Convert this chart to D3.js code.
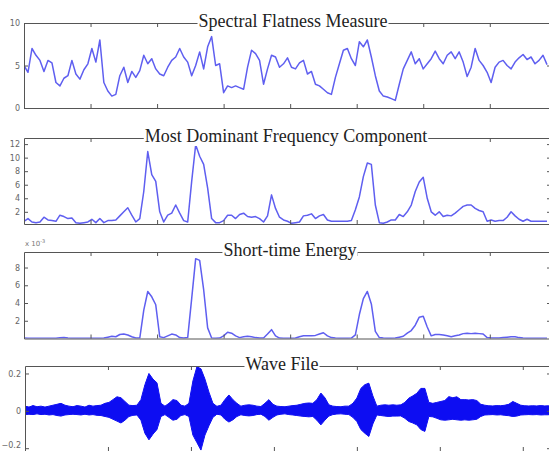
<!DOCTYPE html>
<html>
<head>
<meta charset="utf-8">
<script src="https://d3js.org/d3.v7.min.js"></script>
<style>
  body { margin: 0; background: #fff; }
  .tick text { font-family: "DejaVu Sans", sans-serif; font-size: 8px; fill: #666; }
  .title { font-family: "Liberation Serif", serif; font-size: 18px; fill: #222; }
</style>
</head>
<body>
<svg id="chart" width="549" height="451"></svg>
<script>
// frame values, one every 3 frames (0..393)
const flatness = [5.0,4.2,7.0,6.2,5.6,4.3,5.6,5.3,3.0,2.6,3.5,3.8,5.6,4.0,3.4,4.5,5.2,7.0,5.4,8.0,
  3.0,2.0,1.4,1.6,3.8,4.8,3.0,4.3,3.6,4.4,6.2,5.2,5.8,4.6,4.0,3.8,4.8,5.6,6.0,7.0,
  6.0,5.4,3.8,5.0,6.6,4.6,7.2,8.4,5.0,5.2,1.8,2.6,2.4,2.6,2.4,2.2,4.8,6.8,6.4,5.6,
  2.8,4.6,6.2,6.0,4.8,5.2,5.9,4.8,4.6,5.3,5.6,4.0,4.3,2.8,2.6,2.2,1.8,1.6,3.6,5.2,
  6.8,7.0,5.8,5.0,7.8,7.2,8.0,6.0,3.8,2.0,1.4,1.3,1.1,0.9,2.8,4.6,5.6,6.6,5.2,5.8,
  4.6,5.2,5.8,6.7,5.8,5.2,6.2,6.6,5.8,6.6,5.4,3.7,4.8,7.0,5.6,5.0,4.2,3.0,4.8,5.4,
  5.6,5.0,4.6,5.4,5.9,6.3,5.7,6.0,5.2,5.6,6.2,5.1];

const dominantFreq = [0.6,1.0,0.5,0.4,0.5,1.2,0.8,0.7,0.6,1.5,1.3,1.0,1.1,0.4,0.3,0.4,0.5,0.9,0.4,1.0,
  0.4,0.7,0.7,0.8,1.4,2.0,2.6,1.5,0.5,1.0,5.0,10.9,7.5,6.5,2.0,0.5,1.5,1.8,3.0,1.8,
  0.7,0.5,6.5,11.9,10.2,9.0,5.5,1.0,0.4,0.4,0.7,1.5,1.5,1.0,1.6,1.8,1.3,1.2,1.3,1.0,
  0.5,1.4,4.5,2.5,1.2,0.8,0.6,0.3,0.4,0.5,1.4,1.5,1.7,1.0,1.4,1.6,0.8,0.6,0.6,0.6,
  0.6,0.6,0.7,2.3,4.2,7.2,9.2,9.0,3.0,0.4,0.3,0.5,0.8,0.8,1.6,1.3,2.0,3.0,5.0,6.4,
  7.1,4.0,2.0,1.5,2.0,1.3,1.5,1.4,1.8,2.3,2.8,3.0,3.0,2.5,2.2,2.0,0.6,0.8,0.6,0.7,
  0.7,1.2,2.0,1.4,0.9,0.6,0.9,0.6,0.6,0.6,0.6,0.6];

// x 10^-3
const energy = [0.05,0.03,0.02,0.02,0.02,0.03,0.02,0.02,0.03,0.08,0.12,0.05,0.03,0.02,0.02,0.02,0.03,0.02,0.02,0.03,
  0.05,0.15,0.25,0.2,0.45,0.5,0.4,0.2,0.05,0.05,3.2,5.3,4.7,3.8,0.2,0.1,0.3,0.5,0.4,0.1,
  0.05,0.1,4.5,9.0,8.8,5.5,1.2,0.05,0.03,0.05,0.3,0.7,0.6,0.3,0.1,0.2,0.25,0.2,0.1,0.05,
  0.05,0.5,1.0,0.3,0.05,0.03,0.02,0.02,0.05,0.2,0.3,0.3,0.3,0.35,0.5,0.65,0.3,0.1,0.05,0.03,
  0.03,0.03,0.05,0.4,2.7,4.5,5.3,3.9,0.8,0.1,0.05,0.03,0.03,0.05,0.15,0.25,0.6,0.9,1.5,2.4,
  2.5,1.3,0.3,0.45,0.45,0.4,0.3,0.2,0.3,0.4,0.55,0.6,0.55,0.6,0.55,0.5,0.1,0.05,0.05,0.05,
  0.1,0.15,0.2,0.2,0.1,0.05,0.03,0.02,0.02,0.02,0.02,0.02];

// wave file envelope (upper / lower amplitude)
const waveUpper = [0.025,0.02,0.028,0.022,0.025,0.02,0.025,0.03,0.035,0.04,0.03,0.025,0.022,0.028,0.025,0.02,0.03,0.025,0.028,0.03,
  0.04,0.045,0.06,0.075,0.07,0.05,0.03,0.028,0.03,0.06,0.14,0.2,0.17,0.15,0.04,0.025,0.04,0.06,0.055,0.03,
  0.025,0.04,0.16,0.236,0.225,0.17,0.1,0.04,0.024,0.03,0.06,0.085,0.06,0.04,0.025,0.03,0.032,0.03,0.025,0.023,
  0.04,0.06,0.035,0.025,0.023,0.022,0.025,0.028,0.03,0.035,0.04,0.042,0.04,0.06,0.095,0.07,0.032,0.025,0.023,0.022,
  0.025,0.025,0.04,0.068,0.12,0.14,0.148,0.08,0.025,0.03,0.032,0.03,0.032,0.03,0.032,0.045,0.068,0.08,0.094,0.12,
  0.12,0.045,0.04,0.045,0.05,0.055,0.076,0.07,0.075,0.06,0.06,0.058,0.06,0.055,0.035,0.03,0.027,0.026,0.028,0.027,
  0.03,0.035,0.05,0.04,0.03,0.027,0.026,0.027,0.026,0.028,0.026,0.027];
const waveLower = [-0.02,-0.018,-0.02,-0.016,-0.02,-0.018,-0.022,-0.02,-0.025,-0.028,-0.022,-0.02,-0.018,-0.02,-0.022,-0.018,-0.022,-0.02,-0.024,-0.025,
  -0.03,-0.035,-0.045,-0.055,-0.065,-0.05,-0.03,-0.024,-0.022,-0.05,-0.12,-0.155,-0.125,-0.1,-0.03,-0.02,-0.035,-0.05,-0.045,-0.025,
  -0.02,-0.03,-0.13,-0.17,-0.21,-0.13,-0.08,-0.035,-0.018,-0.022,-0.045,-0.06,-0.048,-0.03,-0.021,-0.025,-0.027,-0.025,-0.02,-0.018,
  -0.03,-0.05,-0.035,-0.022,-0.018,-0.016,-0.02,-0.022,-0.025,-0.028,-0.03,-0.032,-0.03,-0.05,-0.075,-0.05,-0.028,-0.02,-0.017,-0.016,
  -0.018,-0.02,-0.035,-0.057,-0.1,-0.12,-0.137,-0.07,-0.022,-0.025,-0.028,-0.03,-0.028,-0.028,-0.027,-0.04,-0.057,-0.065,-0.075,-0.1,
  -0.11,-0.03,-0.032,-0.04,-0.048,-0.05,-0.048,-0.045,-0.048,-0.05,-0.048,-0.05,-0.048,-0.045,-0.03,-0.022,-0.021,-0.02,-0.022,-0.021,
  -0.024,-0.026,-0.03,-0.028,-0.022,-0.021,-0.02,-0.021,-0.02,-0.022,-0.021,-0.021];

const flatTicks = [0, 5, 10];
const freqTicks = [2, 4, 6, 8, 10, 12];
const energyTicks = [2, 4, 6, 8];
const waveTicks = [-0.2, 0, 0.2];
const frameTicks = [50, 100, 150, 200, 250, 300, 350];
const timeTicks = [1, 2, 3, 4, 5, 6];

const svg = d3.select("#chart");
const frameStep = 3;
const waveStep = 4 / 83;

// soft edge like the scanned figure
svg.append("defs").append("filter").attr("id", "soft")
  .append("feGaussianBlur").attr("stdDeviation", 0.45);

const panels = [
  { title: "Spectral Flatness Measure", tx: 293, values: flatness, yDomain: [0, 10], yTicks: flatTicks,
    top: 23, bottom: 108, left: 24, xDomain: [0, 396], xTicks: frameTicks, fmt: d3.format("d") },
  { title: "Most Dominant Frequency Component", tx: 286, values: dominantFreq, yDomain: [0.2, 12.9], yTicks: freqTicks,
    top: 138, bottom: 224, left: 24, xDomain: [0, 396], xTicks: frameTicks, fmt: d3.format("d") },
  { title: "Short-time Energy", tx: 290, values: energy, yDomain: [0, 9.75], yTicks: energyTicks,
    top: 252, bottom: 338.5, left: 24, xDomain: [0, 396], xTicks: frameTicks, fmt: d3.format("d"), exp: true },
  { title: "Wave File", tx: 282, wave: true, yDomain: [-0.215, 0.24], yTicks: waveTicks,
    top: 366, bottom: 451, left: 25, xDomain: [0, 6.34], xTicks: timeTicks, fmt: d => d === 0 ? "0" : d3.format(".1f")(d) }
];

const right = 551;

panels.forEach((p, k) => {
  const g = svg.append("g");
  const x = d3.scaleLinear().domain(p.xDomain).range([p.left, right]);
  const y = d3.scaleLinear().domain(p.yDomain).range([p.bottom, p.top]);

  g.append("clipPath").attr("id", "clip" + k)
    .append("rect").attr("x", p.left).attr("y", p.top)
    .attr("width", right - p.left).attr("height", p.bottom - p.top);

  const plot = g.append("g").attr("clip-path", "url(#clip" + k + ")");
  if (p.wave) {
    const area = d3.area()
      .x((d, i) => x(i * waveStep))
      .y0((d, i) => y(waveLower[i]))
      .y1(d => y(d));
    plot.append("path").datum(waveUpper)
      .attr("d", area)
      .attr("fill", "#0808f2")
      .attr("stroke", "#0808f2")
      .attr("stroke-width", 1)
      .attr("filter", "url(#soft)");
  } else {
    const line = d3.line()
      .x((d, i) => x(i * frameStep))
      .y(d => y(d));
    plot.append("path").datum(p.values)
      .attr("d", line)
      .attr("fill", "none")
      .attr("stroke", "#5e5ef0")
      .attr("stroke-width", 1.5)
      .attr("stroke-linejoin", "round")
      .attr("filter", "url(#soft)");
  }

  // box and ticks, matlab style (ticks point inward)
  g.append("g").attr("transform", `translate(${p.left},0)`)
    .call(d3.axisLeft(y).tickValues(p.yTicks).tickSize(-4).tickSizeOuter(0).tickPadding(4).tickFormat(p.fmt));
  g.append("g").attr("transform", `translate(${right},0)`)
    .call(d3.axisRight(y).tickValues(p.yTicks).tickSize(-4).tickSizeOuter(0).tickFormat(""));
  g.append("g").attr("transform", `translate(0,${p.top})`)
    .call(d3.axisTop(x).tickValues(p.xTicks).tickSize(-4).tickSizeOuter(0).tickFormat(""));
  g.append("g").attr("transform", `translate(0,${p.bottom})`)
    .call(d3.axisBottom(x).tickValues(p.xTicks).tickSize(-4).tickSizeOuter(0).tickFormat(""));

  g.selectAll(".domain").attr("stroke", "#555");
  g.selectAll(".tick line").attr("stroke", "#555");

  // keep the bottom label of the last panel inside the picture
  if (p.wave) g.selectAll(".tick text").filter(d => d < 0).attr("dy", "-0.1em");

  if (p.exp) {
    const t = g.append("text").attr("x", p.left + 1).attr("y", p.top - 6)
      .attr("font-family", "DejaVu Sans, sans-serif").attr("font-size", 7).attr("fill", "#777");
    t.append("tspan").text("x 10");
    t.append("tspan").attr("dy", -3).attr("font-size", 5).text("-3");
  }

  const title = g.append("text").attr("class", "title")
    .attr("x", p.tx).attr("y", p.top + 4)
    .attr("text-anchor", "middle")
    .text(p.title);
  const bb = title.node().getBBox();
  g.insert("rect", ".title")
    .attr("x", bb.x - 1).attr("y", bb.y)
    .attr("width", bb.width + 2).attr("height", bb.height)
    .attr("fill", "#fff");
});
</script>
</body>
</html>
